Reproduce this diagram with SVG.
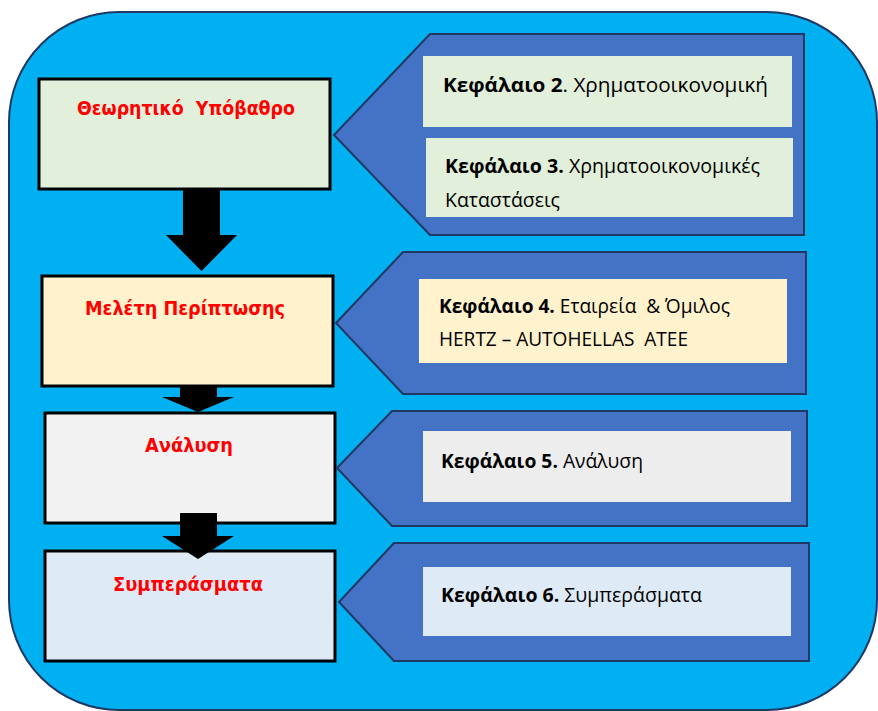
<svg xmlns="http://www.w3.org/2000/svg" width="878" height="711" viewBox="0 0 878 711">
  <style>
    .frame { fill: #00b0f0; stroke: #1f3864; stroke-width: 2; }
    .step { stroke: #000; stroke-width: 3; }
    .title { font-family: "DejaVu Sans", Verdana, sans-serif; font-weight: bold; font-size: 20px; fill: #ff0000; text-anchor: middle; white-space: pre; }
    .tag { fill: #4472c4; stroke: #203864; stroke-width: 2; stroke-linejoin: miter; }
    .txt { font-family: "Open Sans", "Noto Sans", sans-serif; font-size: 19.5px; fill: #000; white-space: pre; }
    .txt .b { font-weight: bold; }
    .flow { fill: #000; }
  </style>

  <!-- background panel -->
  <rect class="frame" x="9" y="12" width="868" height="698" rx="110" ry="110"/>

  <!-- left column: stages -->
  <g id="stage-theory">
    <rect class="step" x="39" y="79" width="291" height="110" fill="#e2efda"/>
    <text class="title" x="186" y="115" textLength="218" lengthAdjust="spacingAndGlyphs">Θεωρητικό  Υπόβαθρο</text>
  </g>
  <g id="stage-case">
    <rect class="step" x="42" y="276" width="291" height="110" fill="#fff2cc"/>
    <text class="title" x="185" y="315" textLength="200" lengthAdjust="spacingAndGlyphs">Μελέτη Περίπτωσης</text>
  </g>
  <g id="stage-analysis">
    <rect class="step" x="45" y="413" width="290" height="110" fill="#f2f2f2"/>
    <text class="title" x="189" y="452" textLength="88" lengthAdjust="spacingAndGlyphs">Ανάλυση</text>
  </g>
  <g id="stage-conclusions">
    <rect class="step" x="45" y="551" width="290" height="110" fill="#deebf7"/>
    <text class="title" x="188" y="591" textLength="150" lengthAdjust="spacingAndGlyphs">Συμπεράσματα</text>
  </g>

  <!-- block arrows between stages -->
  <g id="connectors">
    <polygon class="flow" points="183,189 220,189 220,235 237,235 201.5,271 166,235 183,235"/>
    <polygon class="flow" points="180,386 217,386 217,397 234,397 198,412 162,397 180,397"/>
    <polygon class="flow" points="180,513 217,513 217,536 234,536 198,559 162,536 180,536"/>
  </g>

  <!-- right column: chapter tags -->
  <g id="chapters-2-3">
    <polygon class="tag" points="334,135 430,34 804,34 804,235 430,235"/>
    <rect x="423" y="56" width="369" height="71" fill="#e2efda"/>
    <rect x="426" y="138" width="367" height="79" fill="#e2efda"/>
    <text class="txt" x="443" y="92" textLength="325" lengthAdjust="spacingAndGlyphs"><tspan class="b">Κεφάλαιο 2</tspan>. Χρηματοοικονομική</text>
    <text class="txt" x="445" y="173" textLength="315" lengthAdjust="spacingAndGlyphs"><tspan class="b">Κεφάλαιο 3.</tspan> Χρηματοοικονομικές</text>
    <text class="txt" x="445" y="207" textLength="115" lengthAdjust="spacingAndGlyphs">Καταστάσεις</text>
  </g>
  <g id="chapter-4">
    <polygon class="tag" points="336,323 403,252 806,252 806,394 403,394"/>
    <rect x="419" y="279" width="368" height="84" fill="#fff2cc"/>
    <text class="txt" x="439" y="313" textLength="291" lengthAdjust="spacingAndGlyphs"><tspan class="b">Κεφάλαιο 4.</tspan> Εταιρεία  &amp; Όμιλος</text>
    <text class="txt" x="439" y="346" textLength="249" lengthAdjust="spacingAndGlyphs">HERTZ – AUTOHELLAS  ATEE</text>
  </g>
  <g id="chapter-5">
    <polygon class="tag" points="337,468 392,411 807,411 807,526 392,526"/>
    <rect x="423" y="431" width="368" height="71" fill="#ededed"/>
    <text class="txt" x="441" y="468" textLength="202" lengthAdjust="spacingAndGlyphs"><tspan class="b">Κεφάλαιο 5.</tspan> Ανάλυση</text>
  </g>
  <g id="chapter-6">
    <polygon class="tag" points="339,602 394,543 809,543 809,661 394,661"/>
    <rect x="423" y="567" width="368" height="69" fill="#deebf7"/>
    <text class="txt" x="441" y="602" textLength="261" lengthAdjust="spacingAndGlyphs"><tspan class="b">Κεφάλαιο 6.</tspan> Συμπεράσματα</text>
  </g>
</svg>
